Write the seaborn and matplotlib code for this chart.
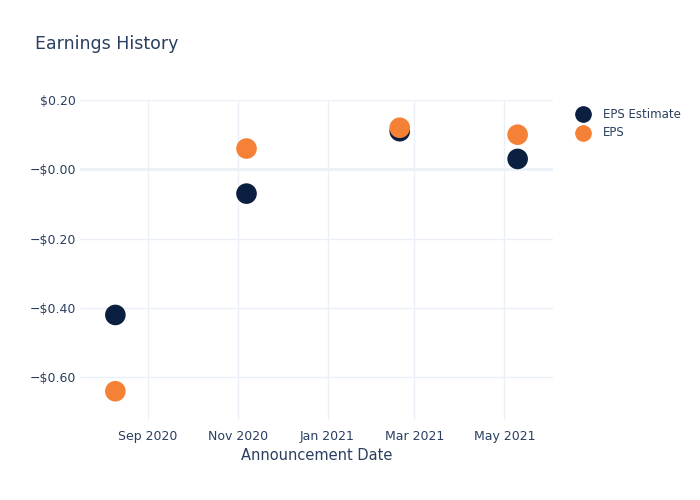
import pandas as pd
import numpy as np
import matplotlib
matplotlib.use("Agg")
import matplotlib.pyplot as plt
import matplotlib.dates as mdates
import seaborn as sns

# earnings data
dates = ["2020-08-10", "2020-11-07", "2021-02-19", "2021-05-10"]
eps_estimate = [-0.42, -0.07, 0.11, 0.03]
eps_actual = [-0.64, 0.06, 0.12, 0.10]

y_ticks = [0.2, 0.0, -0.2, -0.4, -0.6]
y_tick_labels = ["$0.20", "\u2212$0.00", "\u2212$0.20", "\u2212$0.40", "\u2212$0.60"]
x_ticks = ["2020-09-01", "2020-11-01", "2021-01-01", "2021-03-01", "2021-05-01"]

df = pd.DataFrame({
    "date": pd.to_datetime(dates * 2),
    "value": eps_estimate + eps_actual,
    "series": ["EPS Estimate"] * len(dates) + ["EPS"] * len(dates),
})

sns.set_theme(style="white")
plt.rcParams["font.family"] = ["DejaVu Sans"]
text_color = "#2a3f5f"
grid_color = "#ebf0f8"
palette = {"EPS Estimate": "#0b1f40", "EPS": "#f58136"}

fig = plt.figure(figsize=(7, 5), dpi=100)
ax = fig.add_axes([80 / 700, 1 - 420 / 500, 473 / 700, 320 / 500])

sns.scatterplot(data=df, x="date", y="value", hue="series", palette=palette,
                s=220, linewidth=0, ax=ax, zorder=3, legend=False)

ax.set_xlim(pd.Timestamp("2020-07-17"), pd.Timestamp("2021-06-03"))
ax.set_ylim(-0.723, 0.2)

ax.set_xticks(pd.to_datetime(x_ticks))
ax.xaxis.set_major_formatter(mdates.DateFormatter("%b %Y"))
ax.set_yticks(y_ticks)
ax.set_yticklabels(y_tick_labels)

ax.grid(True, color=grid_color, linewidth=1, zorder=0)
ax.axhline(0, color=grid_color, linewidth=2, zorder=1)
for s in ax.spines.values():
    s.set_visible(False)
ax.tick_params(axis="both", length=0, labelsize=9, colors=text_color)
ax.tick_params(axis="x", pad=7)
ax.tick_params(axis="y", pad=3)

ax.set_xlabel("Announcement Date", fontsize=10.5, color=text_color, labelpad=4)
ax.set_ylabel("")

fig.text(35 / 700, 1 - 44 / 500, "Earnings History", fontsize=12.5,
         color=text_color, va="center", ha="left")

# legend
for i, name in enumerate(["EPS Estimate", "EPS"]):
    y = 1 - (114 + 19 * i) / 500
    fig.lines.append(plt.Line2D([583 / 700], [y], marker="o", markersize=11,
                                color=palette[name], linestyle="none",
                                transform=fig.transFigure))
    fig.text(603 / 700, y, name, fontsize=8.5, color=text_color,
             va="center", ha="left")

fig.savefig("out.png", dpi=100)
